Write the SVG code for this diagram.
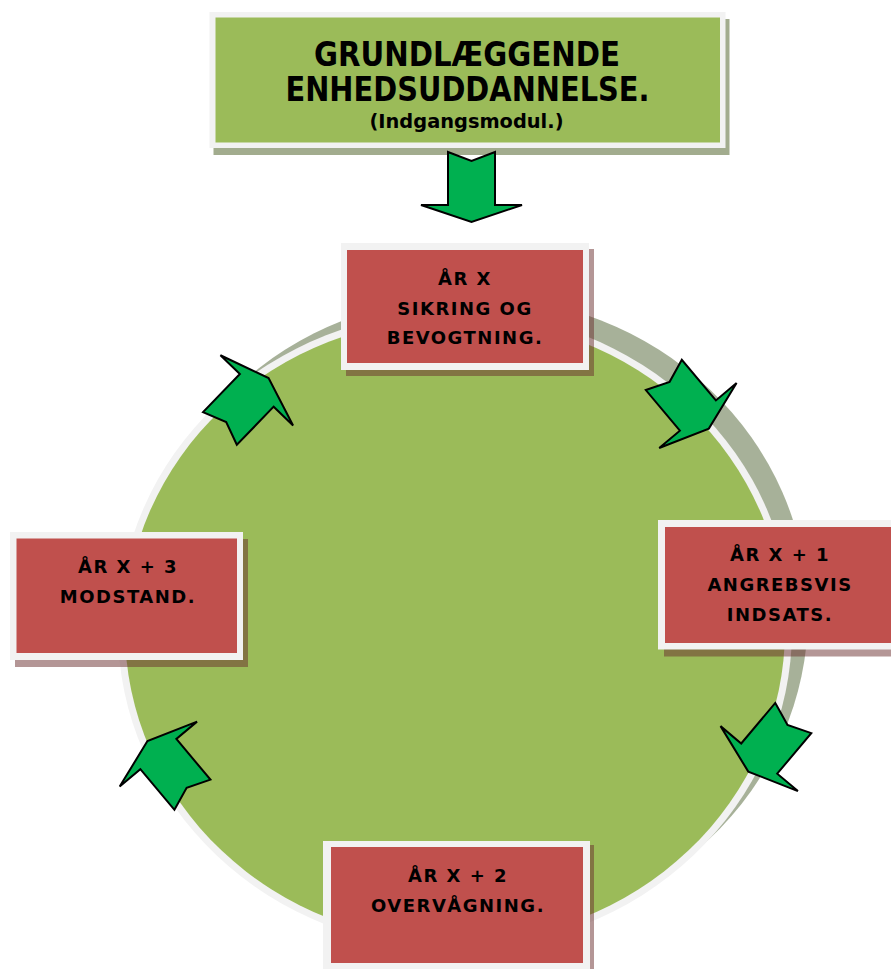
<svg xmlns="http://www.w3.org/2000/svg" xmlns:xlink="http://www.w3.org/1999/xlink" width="891" height="969" viewBox="0 0 891 969">
<style>
.frame{fill:#f2f2f2}
.red{fill:#c0504d}
.green{fill:#9bbb59}
.rsh{fill:rgb(105,45,45);fill-opacity:.5}
.gsh{fill:rgb(70,90,30);fill-opacity:.5}
.title{font-family:"DejaVu Sans","Verdana",sans-serif;font-weight:bold;fill:#000;text-anchor:middle}
.lbl{font-family:"DejaVu Sans",sans-serif;font-weight:bold;font-size:18px;letter-spacing:1.5px;fill:#000;text-anchor:middle}
.arr{fill:#00b050;stroke:#000;stroke-width:2;stroke-linejoin:miter}
</style>
<defs>
<polygon id="arrow" class="arr" points="-23.5,-26.5 0,-17.5 23.5,-26.5 23.5,26.5 50.5,26.5 0,43.5 -50.5,26.5 -23.5,26.5"/>
</defs>
<rect width="891" height="969" fill="#ffffff"/>
<g id="cycle">
<ellipse cx="472" cy="614" rx="336" ry="318" fill="#a7b199"/>
<ellipse cx="455" cy="630" rx="337" ry="319" fill="#f2f2f2"/>
<ellipse cx="455" cy="630" rx="330" ry="312" class="green"/>
</g>
<g id="top">
<rect class="gsh" x="213.5" y="19" width="516" height="136"/>
<rect class="frame" x="209.5" y="12" width="516" height="136"/>
<rect class="green" x="215.5" y="17.5" width="504.5" height="125"/>
<text class="title" x="467" y="65.5" font-size="33" textLength="306" lengthAdjust="spacingAndGlyphs">GRUNDLÆGGENDE</text>
<text class="title" x="467.5" y="101" font-size="33" textLength="364" lengthAdjust="spacingAndGlyphs">ENHEDSUDDANNELSE.</text>
<text class="title" x="466.5" y="128" font-size="19" textLength="194" lengthAdjust="spacingAndGlyphs">(Indgangsmodul.)</text>
</g>
<g id="year0">
<rect class="rsh" x="346" y="249" width="248" height="127"/>
<rect class="frame" x="341" y="243" width="248" height="127"/>
<rect class="red" x="347" y="250" width="236" height="113"/>
<text class="lbl" x="465" y="285">ÅR X</text>
<text class="lbl" x="465" y="314.5">SIKRING OG</text>
<text class="lbl" x="465" y="344">BEVOGTNING.</text>
</g>
<g id="year1">
<rect class="rsh" x="664" y="527" width="240" height="129.5"/>
<rect class="frame" x="658" y="520" width="240" height="129.5"/>
<rect class="red" x="665" y="527" width="226" height="116"/>
<text class="lbl" x="780" y="560.5">ÅR X + 1</text>
<text class="lbl" x="780" y="590.5">ANGREBSVIS</text>
<text class="lbl" x="780" y="620.5">INDSATS.</text>
</g>
<g id="year2">
<rect class="rsh" x="327" y="845" width="267" height="130"/>
<rect class="frame" x="323" y="841" width="267" height="130"/>
<rect class="red" x="331" y="847" width="252" height="116"/>
<text class="lbl" x="458" y="881.5">ÅR X + 2</text>
<text class="lbl" x="458" y="911.5">OVERVÅGNING.</text>
</g>
<g id="year3">
<rect class="rsh" x="15" y="539" width="233" height="128"/>
<rect class="frame" x="10" y="532" width="233" height="128"/>
<rect class="red" x="16.5" y="538.5" width="220.5" height="114.5"/>
<text class="lbl" x="128" y="572.5">ÅR X + 3</text>
<text class="lbl" x="128" y="602.5">MODSTAND.</text>
</g>
<g id="connectors">
<use xlink:href="#arrow" transform="translate(471.5,178.5)"/>
<use xlink:href="#arrow" transform="translate(680.85,395.25) rotate(-40)"/>
<use xlink:href="#arrow" transform="translate(776.25,738.3) rotate(40)"/>
<use xlink:href="#arrow" transform="translate(175.4,774.4) rotate(140)"/>
<use xlink:href="#arrow" transform="translate(238.35,409.4) rotate(-136)"/>
</g>
</svg>
